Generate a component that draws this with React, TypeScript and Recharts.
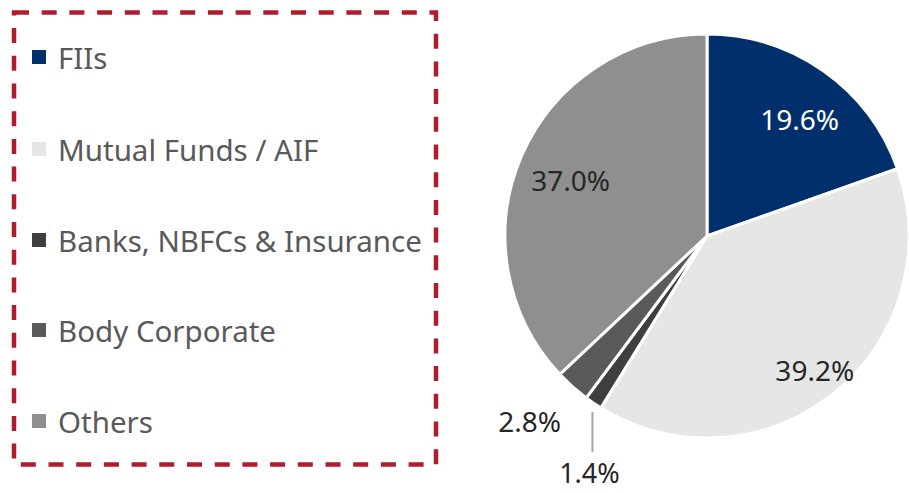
import React from "react";
import { PieChart, Pie, Cell, Legend } from "recharts";

const categories = ["FIIs", "Mutual Funds / AIF", "Banks, NBFCs & Insurance", "Body Corporate", "Others"];
const shares = [19.6, 39.2, 1.4, 2.8, 37.0];
const colors = ["#002f6c", "#e6e6e6", "#3f3f3f", "#5a5a5a", "#8f8f8f"];

const data = categories.map((name, i) => ({ name, value: shares[i] }));

const FONT = "'Noto Sans', 'Open Sans', sans-serif";
const RAD = Math.PI / 180;

// per-slice label placement (radius factor, angle tweak, text colour)
const labelFactor = [0.74, 0.85, 1.0, 1.27, 0.73];
const labelAngleShift = [-3, 0, 0, -2, 1];
const labelColor = ["#ffffff", "#262626", "#262626", "#262626", "#262626"];

const renderLabel = (props: any) => {
  const { cx, cy, midAngle, outerRadius, index, value } = props;
  const text = `${Number(value).toFixed(1)}%`;
  if (index === 2) {
    const ex = cx + outerRadius * Math.cos(-midAngle * RAD);
    const ey = cy + outerRadius * Math.sin(-midAngle * RAD);
    return (
      <g>
        <line x1={ex - 1} y1={ey + 9} x2={ex - 1} y2={ey + 49} stroke="#a6a6a6" strokeWidth={2} />
        <text x={ex - 4} y={ey + 69} fill={labelColor[index]} fontSize={27} fontFamily={FONT} textAnchor="middle" dominantBaseline="central">
          {text}
        </text>
      </g>
    );
  }
  const r = outerRadius * labelFactor[index];
  const a = midAngle + labelAngleShift[index];
  const x = cx + r * Math.cos(-a * RAD);
  const y = cy + r * Math.sin(-a * RAD);
  return (
    <text x={x} y={y} fill={labelColor[index]} fontSize={28} fontFamily={FONT} textAnchor="middle" dominantBaseline="central">
      {text}
    </text>
  );
};

const legendRows = [57, 149, 240, 330, 421];

const renderLegend = () => (
  <svg width={450} height={493} style={{ display: "block" }}>
    <rect x={14} y={12.5} width={422} height={452} fill="none" stroke="#b01c2e" strokeWidth={4.5} strokeDasharray="15 12.7" />
    {categories.map((c, i) => (
      <g key={c}>
        <rect x={32} y={legendRows[i] - 7} width={14} height={14} fill={colors[i]} />
        <text x={58} y={legendRows[i]} fill="#595959" fontSize={29.5} fontFamily={FONT} dominantBaseline="central">
          {c}
        </text>
      </g>
    ))}
  </svg>
);

export default function App() {
  return (
    <div style={{ position: "absolute", left: 0, top: 0, width: 909, height: 493, background: "#fff" }}>
      <PieChart width={909} height={493} margin={{ top: 0, right: 0, bottom: 0, left: 0 }}>
        <Pie
          data={data}
          dataKey="value"
          nameKey="name"
          cx={707}
          cy={236}
          outerRadius={202}
          startAngle={90}
          endAngle={-270}
          stroke="#ffffff"
          strokeWidth={3}
          label={renderLabel}
          labelLine={false}
          isAnimationActive={false}
        >
          {data.map((d, i) => (
            <Cell key={d.name} fill={colors[i]} />
          ))}
        </Pie>
        <Legend
          content={renderLegend}
          wrapperStyle={{ position: "absolute", left: 0, top: 0, width: 450, height: 493 }}
        />
      </PieChart>
    </div>
  );
}
